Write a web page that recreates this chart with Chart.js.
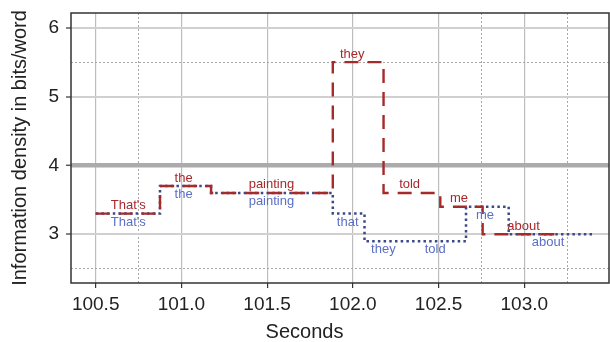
<!DOCTYPE html>
<html>
<head>
<meta charset="utf-8">
<script src="https://cdn.jsdelivr.net/npm/chart.js@4/dist/chart.umd.min.js"></script>
<style>
  html, body { margin: 0; padding: 0; background: #fff; }
  #wrap { width: 610px; height: 342px; }
</style>
</head>
<body>
<div id="wrap"><canvas id="densityChart"></canvas></div>
<script>
// 步階資料：每個點是一個詞的起點，最後一點是結束時間
const redX = [100.5, 100.875, 101.173, 101.883, 102.179, 102.51, 102.757, 103.193];
const redY = [3.3, 3.7, 3.6, 5.5, 3.6, 3.4, 3.0, 3.0];
const redWords = ["That's", 'the', 'painting', 'they', 'told', 'me', 'about'];
const redWordX = [100.69, 101.013, 101.525, 101.996, 102.331, 102.619, 102.996];

const blueX = [100.5, 100.875, 101.173, 101.883, 102.068, 102.29, 102.66, 102.909, 103.395];
const blueY = [3.3, 3.7, 3.6, 3.3, 2.9, 2.9, 3.4, 3.0, 3.0];
const blueWords = ["That's", 'the', 'painting', 'that', 'they', 'told', 'me', 'about'];
const blueWordX = [100.69, 101.013, 101.525, 101.97, 102.178, 102.48, 102.771, 103.139];

const xTickValues = [100.5, 101.0, 101.5, 102.0, 102.5, 103.0];
const xTickLabels = ['100.5', '101.0', '101.5', '102.0', '102.5', '103.0'];
const xMinorValues = [100.75, 102.75, 103.25];
const yTickValues = [3, 4, 5, 6];
const yTickLabels = ['3', '4', '5', '6'];
const yMinorValues = [2.5, 5.5];
const yReference = 4;

const X_MIN = 100.356, X_MAX = 103.494;
const Y_MIN = 2.292, Y_MAX = 6.214;

const RED = '#a52a2a';
const RED_TEXT = '#a8282c';
const BLUE = '#3c4888';
const BLUE_TEXT = '#5b6fc6';

Chart.defaults.font.family = '"Liberation Sans", Arial, Helvetica, sans-serif';
Chart.defaults.color = '#222';

function toPoints(xs, ys) {
    return xs.map((x, i) => ({ x: x, y: ys[i] }));
}

function fixedTicks(values) {
    return scale => { scale.ticks = values.map(v => ({ value: v })); };
}

// 固定軸的尺寸，並取消標籤造成的額外邊距
function fixSize(w, h) {
    return scale => {
        if (w !== null) scale.width = w;
        if (h !== null) scale.height = h;
        scale.paddingTop = 0;
        scale.paddingBottom = 0;
        scale.paddingLeft = 0;
        scale.paddingRight = 0;
    };
}

// 外框與詞標籤
const framePlugin = {
    id: 'frameAndWords',
    afterDatasetsDraw(chart) {
        const { ctx, chartArea: a, scales: { x, y } } = chart;
        ctx.save();
        ctx.font = '13px "Liberation Sans", Arial, sans-serif';
        ctx.textAlign = 'center';
        ctx.textBaseline = 'alphabetic';
        ctx.fillStyle = RED_TEXT;
        redWords.forEach((w, i) => {
            ctx.fillText(w, x.getPixelForValue(redWordX[i]), y.getPixelForValue(redY[i]) - 4.5);
        });
        ctx.fillStyle = BLUE_TEXT;
        blueWords.forEach((w, i) => {
            ctx.fillText(w, x.getPixelForValue(blueWordX[i]), y.getPixelForValue(blueY[i]) + 12);
        });
        ctx.strokeStyle = '#333';
        ctx.lineWidth = 1.5;
        ctx.strokeRect(a.left, a.top, a.right - a.left, a.bottom - a.top);
        ctx.restore();
    }
};

new Chart(document.getElementById('densityChart'), {
    type: 'line',
    data: {
        datasets: [
            {
                label: 'red',
                data: toPoints(redX, redY),
                stepped: 'before',
                borderColor: RED,
                borderWidth: 2.4,
                borderDash: [14, 9],
                borderCapStyle: 'butt',
                pointRadius: 0,
                fill: false
            },
            {
                label: 'blue',
                data: toPoints(blueX, blueY),
                stepped: 'before',
                borderColor: BLUE,
                borderWidth: 2.5,
                borderDash: [2.5, 3.2],
                borderCapStyle: 'butt',
                pointRadius: 0,
                fill: false
            }
        ]
    },
    options: {
        responsive: true,
        maintainAspectRatio: false,
        animation: false,
        layout: { padding: { top: 13, right: 1, left: 0, bottom: 0 } },
        plugins: {
            legend: { display: false },
            tooltip: { enabled: false },
            title: {
                display: true,
                position: 'bottom',
                text: 'Seconds',
                color: '#222',
                font: { size: 20, weight: 'normal', lineHeight: 1 },
                padding: 0
            }
        },
        scales: {
            x: {
                type: 'linear',
                min: X_MIN,
                max: X_MAX,
                afterBuildTicks: fixedTicks(xTickValues),
                afterFit: fixSize(null, 39),
                border: { display: false },
                grid: {
                    color: '#bdbdbd',
                    lineWidth: 1.2,
                    tickLength: 5,
                    tickColor: '#333',
                    tickWidth: 1.2
                },
                ticks: {
                    autoSkip: false,
                    maxRotation: 0,
                    padding: 5,
                    font: { size: 19 },
                    callback: (v, i) => xTickLabels[i]
                }
            },
            x2: {
                type: 'linear',
                position: 'bottom',
                min: X_MIN,
                max: X_MAX,
                afterBuildTicks: fixedTicks(xMinorValues),
                afterFit: fixSize(null, 0),
                border: { display: false, dash: [2, 2] },
                grid: { color: '#a8a8a8', lineWidth: 1, drawTicks: false },
                ticks: { display: false }
            },
            y: {
                type: 'linear',
                min: Y_MIN,
                max: Y_MAX,
                afterBuildTicks: fixedTicks(yTickValues),
                afterFit: fixSize(71, null),
                border: { display: false },
                grid: {
                    color: c => (c.tick && c.tick.value === yReference) ? '#ababab' : '#d0d0d0',
                    lineWidth: c => (c.tick && c.tick.value === yReference) ? 4.5 : 2,
                    tickLength: 5,
                    tickColor: '#333',
                    tickWidth: 1.2
                },
                ticks: {
                    padding: 7,
                    font: { size: 19 },
                    callback: (v, i) => yTickLabels[i]
                },
                title: {
                    display: true,
                    text: 'Information density in bits/word',
                    color: '#222',
                    font: { size: 20 },
                    padding: { top: 8, bottom: 0 }
                }
            },
            y2: {
                type: 'linear',
                position: 'left',
                min: Y_MIN,
                max: Y_MAX,
                afterBuildTicks: fixedTicks(yMinorValues),
                afterFit: fixSize(0, null),
                border: { display: false, dash: [2, 2] },
                grid: { color: '#a8a8a8', lineWidth: 1, drawTicks: false },
                ticks: { display: false }
            }
        }
    },
    plugins: [framePlugin]
});
</script>
</body>
</html>
